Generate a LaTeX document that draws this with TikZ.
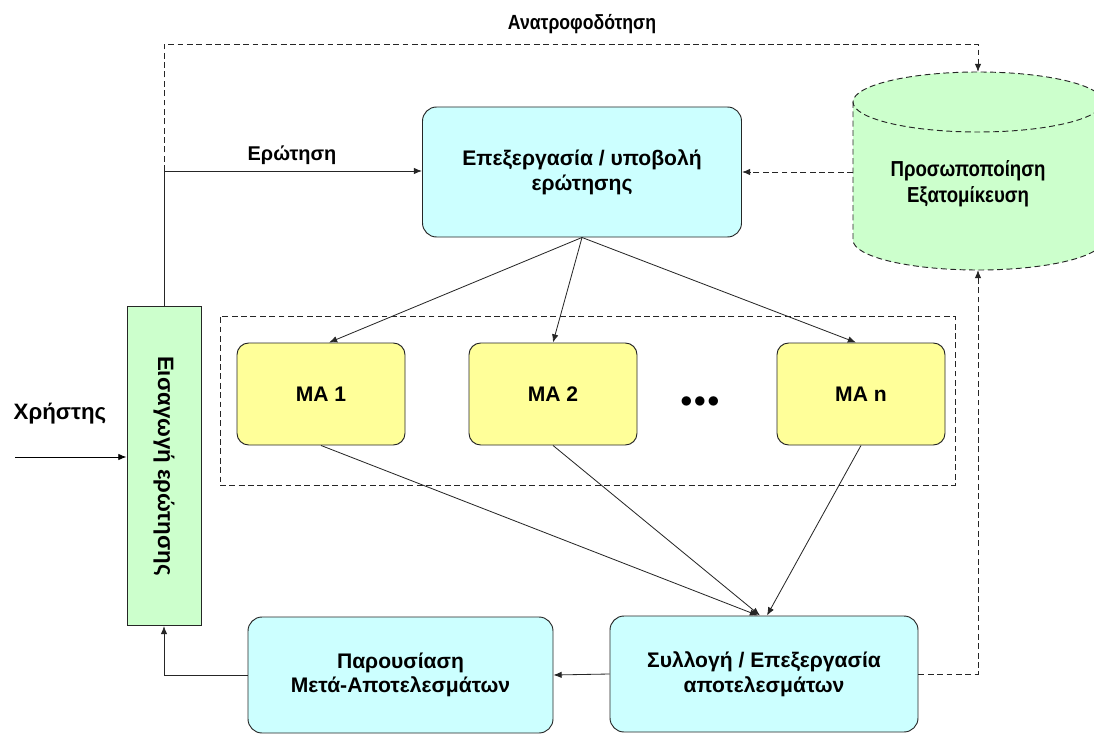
\documentclass[tikz,border=0pt]{standalone}
\usepackage{fontspec}
\setmainfont{Liberation Sans}
\newfontfamily\narrowsans[FakeStretch=0.86]{Liberation Sans}
\usetikzlibrary{arrows.meta}
\definecolor{boxcyan}{HTML}{CCFFFF}
\definecolor{boxyellow}{HTML}{FFFF99}
\definecolor{boxgreen}{HTML}{CCFFCC}
\begin{document}
\begin{tikzpicture}[x=0.03cm,y=-0.03cm,
  every node/.style={font=\bfseries\fontsize{18}{21}\selectfont, align=center, inner sep=0pt},
  procbox/.style={draw=black!85, line width=0.8pt, fill=boxcyan, rounded corners=12pt},
  mabox/.style={draw=black!85, line width=0.8pt, fill=boxyellow, rounded corners=10pt,
                minimum width=168*0.03cm, minimum height=102*0.03cm},
  conn/.style={line width=0.7pt, draw=black!85, -{Latex[length=7pt,width=5.5pt]}},
  dconn/.style={conn, dashed, dash pattern=on 5pt off 3pt},
  lbl/.style={font=\bfseries\fontsize{17}{20}\selectfont}]
\useasboundingbox (0,0) rectangle (1094,734);
\fill[white] (0,0) rectangle (1094,734);

% query preparation box
\node[procbox, minimum width=319*0.03cm, minimum height=130*0.03cm] (query) at (582,172)
  {Επεξεργασία / υποβολή\\ερώτησης};

% personalisation store (cylinder, runs off the right edge)
\begin{scope}
  \clip (0,0) rectangle (1094,734);
  \fill[boxgreen] (853,102) -- (853,240) arc[start angle=180, end angle=0, x radius=125, y radius=30]
     -- (1103,102) arc[start angle=360, end angle=180, x radius=125, y radius=30] -- cycle;
  \draw[black!85, line width=0.8pt, dash pattern=on 5pt off 3pt]
     (978,102) ellipse[x radius=125, y radius=30];
  \draw[black!85, line width=0.8pt, dash pattern=on 5pt off 3pt]
     (853,102) -- (853,240) arc[start angle=180, end angle=0, x radius=125, y radius=30] -- (1103,102);
\end{scope}
\node[font=\narrowsans\bfseries\fontsize{18.5}{22}\selectfont] (pers) at (968,184) {Προσωποποίηση\\Εξατομίκευση};
\coordinate (cyltop) at (978,72);
\coordinate (cylbot) at (978,270);
\coordinate (cylleft) at (853,172);

% query input box (vertical text)
\node[draw=black!85, line width=0.8pt, fill=boxgreen, minimum width=74*0.03cm, minimum height=319*0.03cm]
  (input) at (164,466) {};
\node[rotate=-90, font=\bfseries\fontsize{19}{22}\selectfont] (inputlbl) at (input.center) {Εισαγωγή ερώτησης};

% agent group
\node[draw=black!85, line width=0.8pt, dash pattern=on 5pt off 3pt, minimum width=735*0.03cm, minimum height=169*0.03cm]
  (group) at (587.5,400.5) {};
\node[mabox] (ma1) at (321,394) {MA 1};
\node[mabox] (ma2) at (553,394) {MA 2};
\node[mabox] (man) at (861,394) {MA n};
\node[font=\bfseries\fontsize{22}{22}\selectfont] (dots) at (700,402) {$\bullet\!\bullet\!\bullet$};

% result boxes
\node[procbox, minimum width=308*0.03cm, minimum height=116*0.03cm] (collect) at (764,674)
  {Συλλογή / Επεξεργασία\\αποτελεσμάτων};
\node[procbox, minimum width=305*0.03cm, minimum height=116*0.03cm] (present) at (400.5,675)
  {Παρουσίαση\\Μετά-Αποτελεσμάτων};

% user entry
\coordinate (user) at (15,457);
\node[lbl, font=\bfseries\fontsize{19}{22}\selectfont] (userlbl) at (60,414) {Χρήστης};
\draw[conn, draw=black] (user) -- (user -| input.west);

% query flow
\coordinate (qcorner) at (164,171);
\draw[conn] (input.north) -- (qcorner) -- (qcorner -| query.west);
\node[lbl] (qlbl) at (292,155) {Ερώτηση};

% feedback loop
\coordinate (fbr) at (978,44);
\draw[dconn] (qcorner) |- (fbr) -- (cyltop);
\node[font=\narrowsans\bfseries\fontsize{17.5}{20}\selectfont] (fblbl) at (582,24) {Ανατροφοδότηση};
\draw[dconn] (cylleft) -- (query.east);

% dispatch to agents
\draw[conn] (query.south) -- ([xshift=8*0.03cm]ma1.north);
\draw[conn] (query.south) -- (ma2.north);
\draw[conn] (query.south) -- ([xshift=-5*0.03cm]man.north);

% collect answers
\draw[conn] (ma1.south) -- ([xshift=-6*0.03cm]collect.north);
\draw[conn] (ma2.south) -- ([xshift=-4*0.03cm]collect.north);
\draw[conn] (man.south) -- ([xshift=3*0.03cm]collect.north);

% presentation and return
\draw[conn] (collect.west) -- (present.east);
\draw[conn] (present.west) -| (input.south);
\draw[dconn] (collect.east) -| (cylbot);
\end{tikzpicture}
\end{document}
